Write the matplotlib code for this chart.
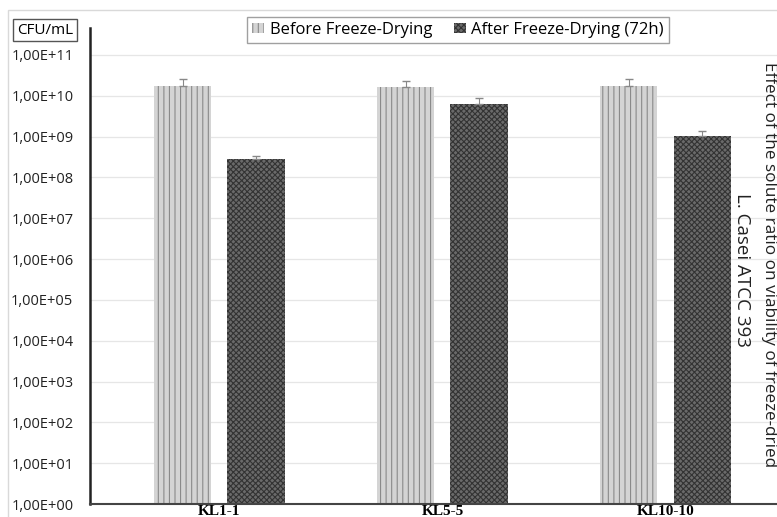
import matplotlib
matplotlib.use("Agg")
import matplotlib.pyplot as plt
import numpy as np
from matplotlib.patches import Rectangle, Patch
from matplotlib.ticker import FixedLocator

categories = ["KL1-1", "KL5-5", "KL10-10"]
before = [1.76e10, 1.6e10, 1.76e10]
before_err = [0.8e10, 0.7e10, 0.75e10]
after = [2.8e8, 6.3e9, 1.05e9]
after_err = [0.5e8, 2.5e9, 0.35e9]
ytick_vals = [10.0 ** k for k in range(0, 12)]
ytick_labels = ["1,00E+%02d" % k for k in range(0, 12)]
series_names = ["Before Freeze-Drying", "After Freeze-Drying (72h)"]

plt.rcParams["hatch.linewidth"] = 0.8

fig = plt.figure(figsize=(7.77, 5.17), dpi=100)
ax = fig.add_axes([90 / 777, 1 - 504 / 517, 1 - 90 / 777, (504 - 28) / 517])

x = np.arange(len(categories))
w = 0.256
off = 0.164
ax.bar(x - off, before, w, color="#d4d4d4", edgecolor="#8a8a8a", hatch="|||", linewidth=0, zorder=2)
ax.bar(x + off, after, w, color="#6a6a6a", edgecolor="#333333", hatch="xxxxxx", linewidth=0, zorder=2)
ax.errorbar(x - off, before, yerr=[np.zeros(3), before_err], fmt="none", ecolor="#888888", elinewidth=0.8, capsize=3, zorder=3)
ax.errorbar(x + off, after, yerr=[np.zeros(3), after_err], fmt="none", ecolor="#888888", elinewidth=0.8, capsize=3, zorder=3)

ax.set_yscale("log")
ax.set_ylim(1, 10 ** 11.66)
ax.set_xlim(-0.58, 2.5)
ax.yaxis.set_major_locator(FixedLocator(ytick_vals))
ax.yaxis.set_minor_locator(FixedLocator([]))
ax.set_yticks(ytick_vals)
ax.set_yticklabels(ytick_labels, fontsize=10.5, family="Open Sans", color="#222222")
ax.tick_params(axis="y", length=0, pad=12)
ax.set_xticks(x)
ax.set_xticklabels(categories, fontsize=11, fontweight="bold", family="Liberation Serif")
ax.tick_params(axis="x", length=0, pad=1)
ax.grid(axis="y", color="#e6e6e6", linewidth=0.9, zorder=0)
ax.set_axisbelow(True)
for s in ["top", "right"]:
    ax.spines[s].set_visible(False)
ax.spines["left"].set_linewidth(1.8)
ax.spines["left"].set_color("#222222")
ax.spines["bottom"].set_linewidth(1.5)
ax.spines["bottom"].set_color("#444444")

# outer frame
fig.patches.append(Rectangle((8 / 777, -0.01), 1, 1 - 10 / 517 + 0.01, transform=fig.transFigure,
                             fill=False, edgecolor="#d9d9d9", linewidth=1.0))

# CFU/mL box
fig.text(45 / 777, 1 - 30 / 517, "CFU/mL", ha="center", va="center", fontsize=11, family="Open Sans",
         bbox=dict(boxstyle="square,pad=0.25", facecolor="white", edgecolor="#555555", linewidth=1.0))

handles = [Patch(facecolor="#d4d4d4", edgecolor="#8a8a8a", hatch="|||", linewidth=0),
           Patch(facecolor="#6a6a6a", edgecolor="#333333", hatch="xxxxxx", linewidth=0)]
leg = fig.legend(handles, series_names, loc="center", bbox_to_anchor=(458 / 777, 1 - 30 / 517), ncol=2,
                 prop={"family": "Open Sans", "size": 12}, frameon=True, fancybox=False,
                 handlelength=0.7, handleheight=0.6, handletextpad=0.35, columnspacing=1.3,
                 borderpad=0.3, borderaxespad=0, edgecolor="#888888")
leg.get_frame().set_linewidth(1.0)

fig.text(769 / 777, 1 - 62 / 517, "Effect of the solute ratio on viability of freeze-dried",
         rotation=-90, ha="center", va="top", fontsize=12.3, family="Open Sans", color="#222222")
fig.text(742 / 777, 1 - 193 / 517, "L. Casei ATCC 393",
         rotation=-90, ha="center", va="top", fontsize=13.5, family="Open Sans", color="#222222")

fig.savefig("out.png", dpi=100)
